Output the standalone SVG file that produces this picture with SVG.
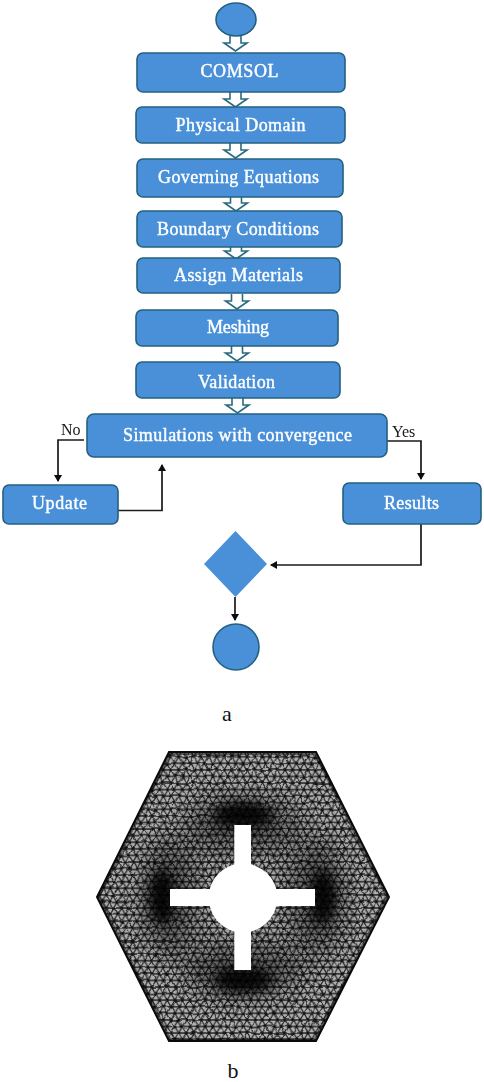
<svg xmlns="http://www.w3.org/2000/svg" width="484" height="1082" viewBox="0 0 484 1082">
<style>
.box{fill:#4a90d9;stroke:#24617f;stroke-width:1.6}
.lbl{font-family:"Liberation Serif","Times New Roman",serif;font-size:18px;font-weight:400;fill:#fff;stroke:#fff;stroke-width:.4;text-anchor:middle}
.dark{font-family:"Liberation Serif","Times New Roman",serif;font-size:16px;fill:#1a1a1a}
.cap{font-family:"Liberation Serif","Times New Roman",serif;font-size:22px;fill:#111;text-anchor:middle}
.block{fill:#fff;stroke:#2a6a80;stroke-width:1.6;stroke-linejoin:miter}
.wire{fill:none;stroke:#1c1c1c;stroke-width:1.7}
</style>
<defs>
<marker id="arr" markerWidth="9" markerHeight="9" refX="6" refY="4" orient="auto" markerUnits="userSpaceOnUse"><path d="M0,0L7,4L0,8Z" fill="#111"/></marker>
<path id="ba" d="M-5.5,0V7H-11.500L0,15L11.500,7H5.500V0"/>
<filter id="soft" x="-5%" y="-5%" width="110%" height="110%"><feGaussianBlur stdDeviation="0.4"/></filter>
<filter id="warp" x="0" y="0" width="100%" height="100%"><feTurbulence type="fractalNoise" baseFrequency="0.1" numOctaves="2" seed="7" result="n"/><feDisplacementMap in="SourceGraphic" in2="n" scale="4" xChannelSelector="R" yChannelSelector="G"/><feGaussianBlur stdDeviation="0.25"/></filter>
<filter id="blur7" x="-60%" y="-60%" width="220%" height="220%"><feGaussianBlur stdDeviation="6"/></filter>
<filter id="blur12" x="-60%" y="-60%" width="220%" height="220%"><feGaussianBlur stdDeviation="13"/></filter>
<pattern id="mesh" width="7.600" height="13.160" patternUnits="userSpaceOnUse">
<rect width="7.600" height="13.160" fill="#b0b0b0"/>
<path d="M0,0H7.600M0,6.580H7.600M0,13.160H7.600M0,0L3.800,6.580L7.600,0M0,13.160L3.800,6.580L7.600,13.160" stroke="#1c1c1c" stroke-width="1.200" fill="none"/>
<circle cx="0" cy="0" r="1.500" fill="#111"/><circle cx="7.600" cy="0" r="1.500" fill="#111"/><circle cx="3.800" cy="6.580" r="1.500" fill="#111"/><circle cx="0" cy="13.160" r="1.500" fill="#111"/><circle cx="7.600" cy="13.160" r="1.500" fill="#111"/>
</pattern>
<clipPath id="hex"><path d="M169,752H316L389,897L316,1041H169L97,897Z"/></clipPath>
<clipPath id="cropB"><rect x="140" y="215" width="200" height="23.500"/></clipPath>
</defs>

<g filter="url(#soft)">
<g id="connectors">
<use href="#ba" class="block" x="235.500" y="36"/>
<use href="#ba" class="block" x="235.500" y="92"/>
<use href="#ba" class="block" x="235.500" y="143"/>
<use href="#ba" class="block" x="236" y="196"/>
<use href="#ba" class="block" x="236" y="244"/>
<use href="#ba" class="block" x="237" y="294"/>
<use href="#ba" class="block" x="237" y="346"/>
<use href="#ba" class="block" x="237.500" y="398"/>
<path class="wire" d="M84,440H58V481" marker-end="url(#arr)"/>
<path class="wire" d="M387,441H421V479" marker-end="url(#arr)"/>
<path class="wire" d="M118,510.500H162V465" marker-end="url(#arr)"/>
<path class="wire" d="M421,524V565H271" marker-end="url(#arr)"/>
<path class="wire" d="M235,597V620" marker-end="url(#arr)"/>
</g>
<g id="start"><ellipse class="box" cx="236" cy="19.500" rx="20" ry="16.500"/></g>
<g id="comsol"><rect class="box" x="137" y="53" width="208" height="39" rx="6"/><text class="lbl" x="239.500" y="77" textLength="78" lengthAdjust="spacing">COMSOL</text></g>
<g id="physical"><rect class="box" x="136" y="107" width="209" height="36" rx="6"/><text class="lbl" x="240.500" y="131" textLength="130" lengthAdjust="spacing">Physical Domain</text></g>
<g id="governing"><rect class="box" x="137" y="159" width="206" height="38" rx="6"/><text class="lbl" x="238.500" y="183" textLength="161" lengthAdjust="spacing">Governing Equations</text></g>
<g id="boundary"><rect class="box" x="137" y="211" width="205" height="36" rx="6"/><text class="lbl" x="238" y="235" textLength="162" lengthAdjust="spacing" clip-path="url(#cropB)">Boundary Conditions</text></g>
<g id="materials"><rect class="box" x="137" y="258" width="203" height="35" rx="6"/><text class="lbl" x="238.500" y="281" textLength="129" lengthAdjust="spacing">Assign Materials</text></g>
<g id="meshing"><rect class="box" x="136" y="310" width="202" height="36" rx="6"/><text class="lbl" x="238" y="333" textLength="62" lengthAdjust="spacing">Meshing</text></g>
<g id="validation"><rect class="box" x="136" y="362" width="204" height="36" rx="6"/><text class="lbl" x="236.500" y="388" textLength="77" lengthAdjust="spacing">Validation</text></g>
<g id="simulations"><rect class="box" x="87" y="414" width="300" height="43" rx="7"/><text class="lbl" x="237.500" y="441" textLength="229" lengthAdjust="spacing">Simulations with convergence</text></g>
<g id="update"><rect class="box" x="3" y="485" width="115" height="39" rx="6"/><text class="lbl" x="59.500" y="509" textLength="55" lengthAdjust="spacing">Update</text></g>
<g id="results"><rect class="box" x="343" y="483" width="138" height="41" rx="6"/><text class="lbl" x="411.500" y="509" textLength="55" lengthAdjust="spacing">Results</text></g>
<g id="decision"><path d="M235.500,531L267,564L235.500,597L204,564Z" fill="#4a90d9"/></g>
<g id="end"><circle class="box" cx="236" cy="647" r="23"/></g>
<text class="dark" x="61" y="435">No</text>
<text class="dark" x="392" y="437">Yes</text>
</g>
<text class="cap" x="227" y="721">a</text>

<g clip-path="url(#hex)">
<rect x="90" y="745" width="306" height="302" fill="url(#mesh)" filter="url(#warp)"/>
<g fill="#000">
<ellipse cx="243" cy="815" rx="30" ry="13" opacity=".9" filter="url(#blur7)"/>
<ellipse cx="243" cy="980" rx="30" ry="13" opacity=".9" filter="url(#blur7)"/>
<ellipse cx="162" cy="897" rx="13" ry="28" opacity=".9" filter="url(#blur7)"/>
<ellipse cx="323" cy="897" rx="13" ry="28" opacity=".9" filter="url(#blur7)"/>
<ellipse cx="243" cy="826" rx="60" ry="28" opacity=".45" filter="url(#blur12)"/>
<ellipse cx="243" cy="969" rx="60" ry="28" opacity=".45" filter="url(#blur12)"/>
<ellipse cx="170" cy="897" rx="28" ry="60" opacity=".45" filter="url(#blur12)"/>
<ellipse cx="316" cy="897" rx="28" ry="60" opacity=".45" filter="url(#blur12)"/>
</g>
<path d="M169,752H316L389,897L316,1041H169L97,897Z" fill="none" stroke="#000" stroke-width="6" opacity=".45"/>
</g>
<path d="M169,752H316L389,897L316,1041H169L97,897Z" fill="none" stroke="#0a0a0a" stroke-width="2"/>
<path d="M234.300,825H251V864.500A35,35 0 0 1 276.300,889H315V906H276.300A35,35 0 0 1 251,931.500V970H234.300V931.500A35,35 0 0 1 209.700,906H170V889H209.700A35,35 0 0 1 234.300,864.500Z" fill="#fff"/>
<text class="cap" x="233" y="1078">b</text>
</svg>
